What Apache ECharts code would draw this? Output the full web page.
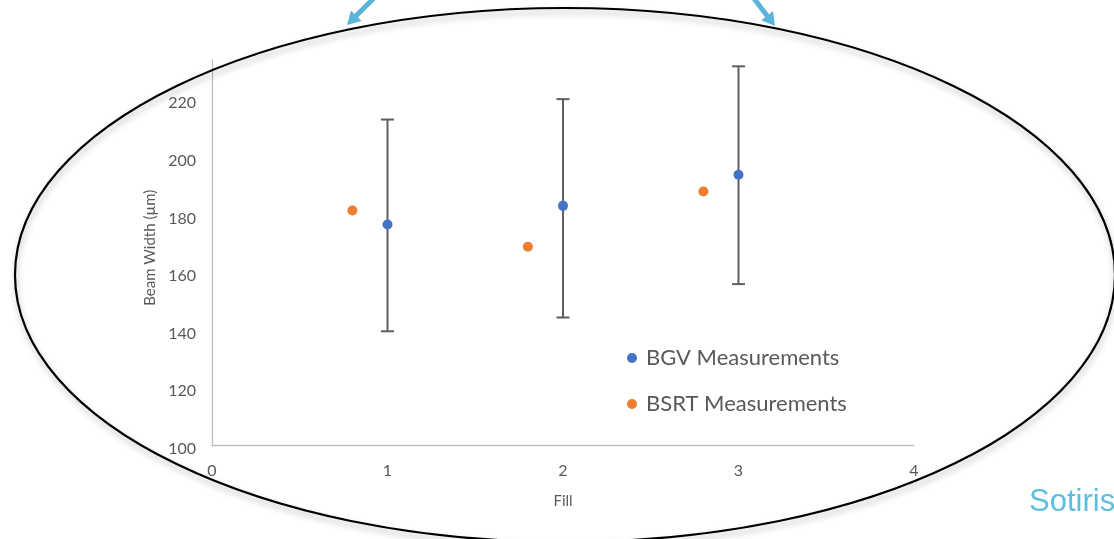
<!DOCTYPE html>
<html>
<head>
<meta charset="utf-8">
<script src="https://cdn.jsdelivr.net/npm/echarts@6/dist/echarts.min.js"></script>
<style>
  html, body { margin: 0; padding: 0; background: #fff; }
  #chart { width: 1114px; height: 539px; }
</style>
</head>
<body>
<div id="chart"></div>
<script>
// Beam width per fill: BGV (with error bars) and BSRT measurements
const bgvFill = [1, 2, 3];
const bgvWidth = [176.8, 183.3, 194.1];
const bgvLow = [139.7, 144.5, 156.1];
const bgvHigh = [213.3, 220.4, 231.8];

const bsrtFill = [0.8, 1.8, 2.8];
const bsrtWidth = [181.7, 169.1, 188.3];

const seriesNames = ['BGV Measurements', 'BSRT Measurements'];
const axisTitles = { x: 'Fill', y: 'Beam Width (µm)' };
const footerText = 'Sotiris';

const textGrey = '#595959';
const fontFamily = 'Lato, "Open Sans", sans-serif';

// arrow polygon from tail to tip
function arrowPoints(tx, ty, hx, hy, shaftW, headL, headW) {
  const dx = hx - tx, dy = hy - ty;
  const len = Math.sqrt(dx * dx + dy * dy);
  const ux = dx / len, uy = dy / len;
  const nx = -uy, ny = ux;
  const bx = hx - ux * headL, by = hy - uy * headL;
  const s = shaftW / 2, h = headW / 2;
  return [
    [tx + nx * s, ty + ny * s],
    [bx + nx * s, by + ny * s],
    [bx + nx * h, by + ny * h],
    [hx, hy],
    [bx - nx * h, by - ny * h],
    [bx - nx * s, by - ny * s],
    [tx - nx * s, ty - ny * s]
  ];
}

const chart = echarts.init(document.getElementById('chart'), null, { renderer: 'canvas' });

const option = {
  backgroundColor: '#ffffff',
  animation: false,
  textStyle: { fontFamily: fontFamily },
  grid: { left: 212, right: 200, top: 60, bottom: 93.5, containLabel: false },
  legend: {
    data: seriesNames,
    orient: 'vertical',
    left: 622,
    top: 341,
    icon: 'circle',
    itemWidth: 18,
    itemHeight: 10,
    itemGap: 22,
    textStyle: { color: textGrey, fontSize: 22, lineHeight: 24, fontFamily: fontFamily }
  },
  xAxis: {
    type: 'value',
    min: 0,
    max: 4,
    interval: 1,
    name: axisTitles.x,
    nameLocation: 'middle',
    nameGap: 48,
    nameTextStyle: { color: textGrey, fontSize: 15, fontFamily: fontFamily },
    axisLine: { show: true, lineStyle: { color: '#bfbfbf', width: 1.3 } },
    axisTick: { show: false },
    splitLine: { show: false },
    axisLabel: { color: textGrey, fontSize: 16, margin: 17, fontFamily: fontFamily }
  },
  yAxis: {
    type: 'value',
    min: 100,
    max: 234,
    interval: 20,
    name: axisTitles.y,
    nameLocation: 'middle',
    nameGap: 52,
    nameTextStyle: { color: textGrey, fontSize: 15, fontFamily: fontFamily, padding: [0, 0, 0, 10] },
    axisLine: { show: true, lineStyle: { color: '#bfbfbf', width: 1.3 } },
    axisTick: { show: false },
    splitLine: { show: false },
    axisLabel: {
      color: textGrey, fontSize: 16, margin: 16, showMaxLabel: false,
      verticalAlign: 'top', lineHeight: 6, fontFamily: fontFamily
    }
  },
  series: [
    {
      name: 'BGV error',
      type: 'custom',
      z: 2,
      data: bgvFill.map((f, i) => [f, bgvLow[i], bgvHigh[i]]),
      renderItem: function (params, api) {
        const x = api.value(0);
        const lo = api.coord([x, api.value(1)]);
        const hi = api.coord([x, api.value(2)]);
        const cap = 6.5;
        const style = { stroke: '#5f5f5f', lineWidth: 2 };
        return {
          type: 'group',
          children: [
            { type: 'line', shape: { x1: lo[0], y1: lo[1], x2: hi[0], y2: hi[1] }, style: style },
            { type: 'line', shape: { x1: hi[0] - cap, y1: hi[1], x2: hi[0] + cap, y2: hi[1] }, style: style },
            { type: 'line', shape: { x1: lo[0] - cap, y1: lo[1], x2: lo[0] + cap, y2: lo[1] }, style: style }
          ]
        };
      }
    },
    {
      name: seriesNames[0],
      type: 'scatter',
      z: 3,
      symbol: 'circle',
      symbolSize: 10,
      itemStyle: { color: '#4472C4', opacity: 1 },
      data: bgvFill.map((f, i) => [f, bgvWidth[i]])
    },
    {
      name: seriesNames[1],
      type: 'scatter',
      z: 3,
      symbol: 'circle',
      symbolSize: 10,
      itemStyle: { color: '#ED7D31', opacity: 1 },
      data: bsrtFill.map((f, i) => [f, bsrtWidth[i]])
    }
  ],
  graphic: [
    {
      type: 'ellipse',
      z: 10,
      shape: { cx: 565, cy: 275, rx: 550, ry: 267 },
      style: {
        fill: null,
        stroke: '#000000',
        lineWidth: 2.2,
        shadowBlur: 6,
        shadowColor: 'rgba(0,0,0,0.3)',
        shadowOffsetX: 1,
        shadowOffsetY: 4
      }
    },
    {
      type: 'polygon',
      z: 11,
      shape: { points: arrowPoints(381, -9, 347, 25, 5, 13, 15) },
      style: { fill: '#5BB5DA' }
    },
    {
      type: 'polygon',
      z: 11,
      shape: { points: arrowPoints(749, -8, 775, 26, 5, 13, 15) },
      style: { fill: '#5BB5DA' }
    },
    {
      type: 'text',
      z: 11,
      x: 1029,
      y: 502,
      style: {
        text: footerText,
        fill: '#5DBEE0',
        font: '31px "Liberation Sans", Arial, sans-serif',
        verticalAlign: 'middle',
        align: 'left'
      }
    }
  ]
};

chart.setOption(option);
</script>
</body>
</html>
